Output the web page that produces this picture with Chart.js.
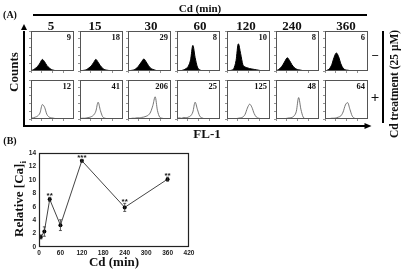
<!DOCTYPE html>
<html><head><meta charset="utf-8">
<script src="https://cdn.jsdelivr.net/npm/chart.js@4/dist/chart.umd.min.js"></script>
<style>
body{margin:0;width:402px;height:272px;overflow:hidden;background:#fff;position:relative;font-family:"Liberation Serif","DejaVu Serif",serif;font-weight:bold;color:#111}
.a{position:absolute;white-space:nowrap;line-height:1}
.c{transform:translate(-50%,-50%)}
.r{transform:translate(-50%,-50%) rotate(-90deg)}
canvas{position:absolute}
.bar{position:absolute;background:#000}
</style></head><body>
<script>
// ---------- data ----------
const timesMin = [5, 15, 30, 60, 120, 240, 360];
const colLabels = ["5", "15", "30", "60", "120", "240", "360"];
const minusCounts = ["9", "18", "29", "8", "10", "8", "6"];
const plusCounts = ["12", "41", "206", "25", "125", "48", "64"];
const binLabels = [0,1,2,3,4,5,6,7,8,9,10,11,12,13,14,15,16,17,18,19];
// untreated (-) histograms, filled
const minus5   = [1,3,7,12,20,29,23,14,8,4,2,1,1,0,0,0,0,0,0,0];
const minus15  = [0,1,2,4,8,13,21,29,22,13,7,3,2,1,0,0,0,0,0,0];
const minus30  = [0,1,2,4,8,15,23,30,23,14,7,4,2,1,1,0,0,0,0,0];
const minus60  = [0,0,1,3,6,12,28,64,34,10,3,1,0,0,0,0,0,0,0,0];
const minus120 = [0,1,2,6,26,68,44,16,10,8,6,5,4,3,2,1,1,0,0,0];
const minus240 = [1,3,8,15,25,33,26,16,9,5,3,2,1,1,0,0,0,0,0,0];
const minus360 = [0,2,6,16,34,45,36,18,7,3,2,1,0,0,0,0,0,0,0,0];
// Cd-treated (+) histograms, outline
const plus5   = [2,3,5,8,16,37,30,12,5,3,2,1,1,0,0,0,0,0,0,0];
const plus15  = [1,2,2,3,4,6,10,20,43,22,6,2,1,0,0,0,0,0,0,0];
const plus30  = [1,1,2,2,3,3,4,5,7,10,18,35,57,22,5,2,1,0,0,0];
const plus60  = [1,3,2,4,3,5,8,18,43,25,8,3,1,0,0,0,0,0,0,0];
const plus120 = [0,0,0,1,1,2,3,5,12,28,38,30,14,5,2,1,0,0,0,0];
const plus240 = [0,0,0,1,1,2,3,4,8,20,55,25,5,1,0,0,0,0,0,0];
const plus360 = [1,1,1,2,2,3,5,8,18,36,42,25,8,2,1,0,0,0,0,0];
// panel B
const relCa    = [1.5, 2.3, 7.1, 3.25, 12.85, 5.9, 10.1];
const relCaErr = [0.3, 0.7, 0.3, 0.8, 0.2, 0.6, 0.3];
const signif   = ["", "", "**", "", "***", "**", "**"];

const minusHists = [minus5, minus15, minus30, minus60, minus120, minus240, minus360];
const plusHists = [plus5, plus15, plus30, plus60, plus120, plus240, plus360];

// ---------- layout ----------
const boxLeft = [31, 80, 128, 177, 227, 276, 325];
const boxW = 43;
const rows = [{top: 31, h: 40}, {top: 80, h: 39}];
const labelX = [51, 95, 151, 200, 246, 292, 346];

function addText(txt, x, y, size, cls, extra) {
  const d = document.createElement('div');
  d.className = 'a ' + (cls || 'c');
  d.style.left = x + 'px'; d.style.top = y + 'px';
  d.style.fontSize = size + 'px';
  d.innerHTML = txt;
  if (extra) Object.assign(d.style, extra);
  document.body.appendChild(d);
  return d;
}
function addBar(x, y, w, h) {
  const d = document.createElement('div');
  d.className = 'bar';
  Object.assign(d.style, {left: x + 'px', top: y + 'px', width: w + 'px', height: h + 'px'});
  document.body.appendChild(d);
}
function addCanvas(x, y, w, h) {
  const c = document.createElement('canvas');
  c.width = w; c.height = h;
  Object.assign(c.style, {left: x + 'px', top: y + 'px', width: w + 'px', height: h + 'px'});
  document.body.appendChild(c);
  return c;
}

const boxPlugin = {
  id: 'box',
  afterDraw(chart, args, opts) {
    const a = chart.chartArea, ctx = chart.ctx;
    ctx.save();
    ctx.strokeStyle = opts.color || '#444';
    ctx.lineWidth = opts.width || 1;
    ctx.strokeRect(a.left + 0.5, a.top + 0.5, a.right - a.left - 1, a.bottom - a.top - 1);
    ctx.restore();
  }
};

function histChart(vals, x, row, filled, countText) {
  const cv = addCanvas(x - 3, row.top, boxW + 3, row.h + 3);
  const grid = {display: true, drawOnChartArea: false, drawTicks: true, tickLength: 2, color: '#777', lineWidth: 0.8};
  new Chart(cv, {
    type: 'line',
    data: {labels: binLabels, datasets: [{
      data: vals.map((v, i) => ({x: binLabels[i], y: v})),
      borderColor: filled ? '#000' : '#666',
      backgroundColor: '#000',
      borderWidth: filled ? 1 : 0.9,
      fill: filled ? 'origin' : false,
      pointRadius: 0,
      cubicInterpolationMode: 'monotone'
    }]},
    options: {
      responsive: false, animation: false, events: [],
      layout: {padding: 0},
      plugins: {legend: {display: false}, tooltip: {enabled: false}, box: {color: '#555', width: 1}},
      scales: {
        x: {type: 'linear', min: 0, max: 19, ticks: {display: false, stepSize: 4.75}, grid: grid,
            border: {display: false}, afterFit: s => { s.height = 3; }},
        y: {min: 0, max: 100, ticks: {display: false, stepSize: 20}, grid: grid,
            border: {display: false}, afterFit: s => { s.width = 3; }}
      }
    },
    plugins: [boxPlugin]
  });
  addText(countText, x + boxW - 3, row.top + 1.5, 8.5, '', {textAlign: 'right', transform: 'translateX(-100%)'});
}

for (let i = 0; i < 7; i++) {
  histChart(minusHists[i], boxLeft[i], rows[0], true, minusCounts[i]);
  histChart(plusHists[i], boxLeft[i], rows[1], false, plusCounts[i]);
  addText(colLabels[i], labelX[i], 25, 13);
}

// panel A decorations
addText('(A)', 10, 15, 10);
addText('Cd (min)', 200, 8, 11);
addBar(33, 14, 334, 2);
addText('Counts', 13, 72, 13, 'r');
addBar(23, 31, 2, 96);
addText('', 24, 27, 0, 'a', {width: 0, height: 0, borderLeft: '3px solid transparent', borderRight: '3px solid transparent', borderBottom: '6px solid #000', transform: 'translate(-50%,-50%)'});
addBar(23, 125, 343, 2);
addText('', 368, 126, 0, 'a', {width: 0, height: 0, borderTop: '3px solid transparent', borderBottom: '3px solid transparent', borderLeft: '7px solid #000', transform: 'translate(-50%,-50%)'});
addText('FL-1', 207, 133, 13);
addText('\u2212', 375, 55, 13);
addText('+', 375, 97, 15);
addBar(382, 31, 2, 92);
addText('Cd treatment (25 \u03bcM)', 395, 84, 11.5, 'r');

// panel B
addText('(B)', 10, 141, 10);
addText('Relative [Ca]<sub style="font-size:9px;vertical-align:-3px">i</sub>', 20, 199, 13, 'r');

const errPlugin = {
  id: 'err',
  afterDatasetsDraw(chart) {
    const xs = chart.scales.x, ys = chart.scales.y, ctx = chart.ctx;
    ctx.save();
    ctx.strokeStyle = '#333'; ctx.lineWidth = 0.8; ctx.fillStyle = '#111';
    ctx.font = 'bold 8px "Liberation Sans"'; ctx.textAlign = 'center'; ctx.textBaseline = 'alphabetic';
    timesMin.forEach((t, i) => {
      const px = xs.getPixelForValue(t);
      const yt = ys.getPixelForValue(relCa[i] + relCaErr[i]);
      const yb = ys.getPixelForValue(relCa[i] - relCaErr[i]);
      ctx.beginPath();
      ctx.moveTo(px, yt); ctx.lineTo(px, yb);
      ctx.moveTo(px - 1.5, yt); ctx.lineTo(px + 1.5, yt);
      ctx.moveTo(px - 1.5, yb); ctx.lineTo(px + 1.5, yb);
      ctx.stroke();
      if (signif[i]) ctx.fillText(signif[i], px, yt + 1);
    });
    ctx.restore();
  }
};

const cvB = addCanvas(0, 140, 200, 132);
new Chart(cvB, {
  type: 'line',
  data: {datasets: [{
    data: timesMin.map((t, i) => ({x: t, y: relCa[i]})),
    borderColor: '#444', borderWidth: 1,
    pointRadius: 2, pointBackgroundColor: '#000', pointBorderColor: '#000', pointBorderWidth: 0,
    tension: 0
  }]},
  options: {
    responsive: false, animation: false, events: [],
    layout: {padding: {top: 13, right: 11, left: 0, bottom: 0}},
    plugins: {legend: {display: false}, tooltip: {enabled: false}, box: {color: '#222', width: 1.2}},
    scales: {
      x: {type: 'linear', min: 0, max: 420,
          ticks: {stepSize: 60, padding: 2, color: '#222', font: {family: 'Liberation Sans', weight: 'bold', size: 6.5}, maxRotation: 0},
          grid: {display: false, drawTicks: false}, border: {display: false},
          title: {display: true, text: 'Cd (min)', color: '#111', padding: {top: 0, bottom: 2},
                  font: {family: 'Liberation Serif', weight: 'bold', size: 13, lineHeight: 1.2}},
          afterFit: s => { s.height = 25; }},
      y: {min: 0, max: 14,
          ticks: {stepSize: 2, padding: 3, color: '#222', font: {family: 'Liberation Sans', weight: 'bold', size: 6.5}},
          grid: {display: false, drawTicks: false}, border: {display: false},
          afterFit: s => { s.width = 39; }}
    }
  },
  plugins: [boxPlugin, errPlugin]
});
</script>
</body></html>
